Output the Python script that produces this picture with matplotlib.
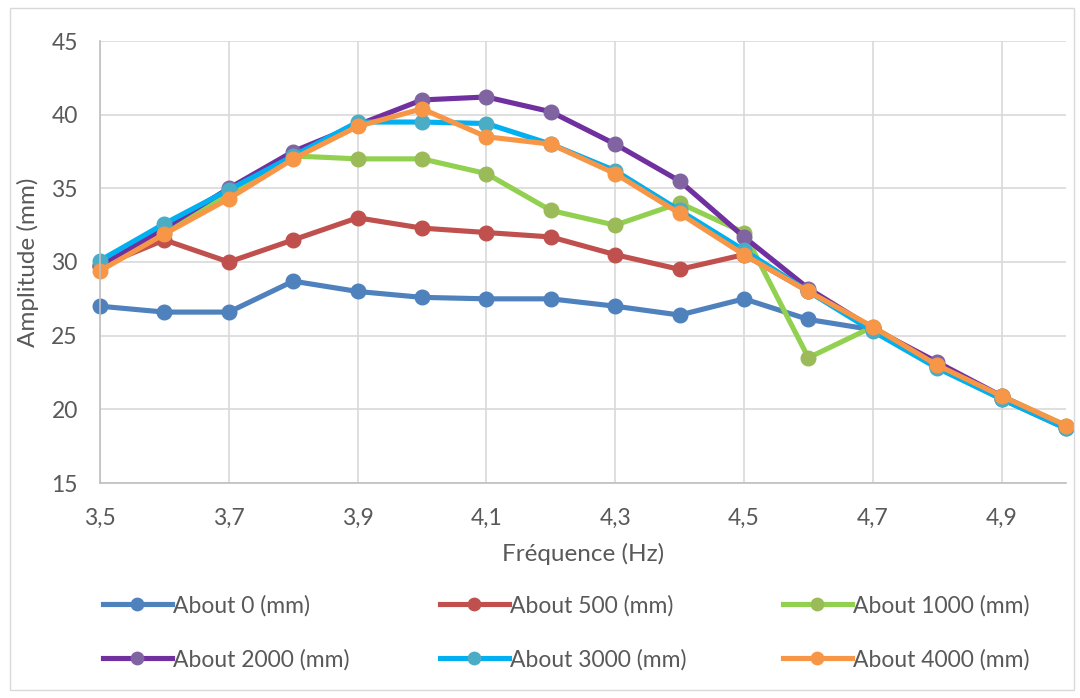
import matplotlib.pyplot as plt
from matplotlib.ticker import FixedLocator, FuncFormatter
from matplotlib.patches import Rectangle

# Amplitude vs frequency for each offset
freq = [3.5, 3.6, 3.7, 3.8, 3.9, 4.0, 4.1, 4.2, 4.3, 4.4, 4.5, 4.6, 4.7, 4.8, 4.9, 5.0]
about_0 = [27.0, 26.6, 26.6, 28.7, 28.0, 27.6, 27.5, 27.5, 27.0, 26.4, 27.5, 26.1, 25.4, 22.9, 20.7, 18.7]
about_500 = [29.7, 31.5, 30.0, 31.5, 33.0, 32.3, 32.0, 31.7, 30.5, 29.5, 30.5, 28.0, 25.5, 23.0, 20.8, 18.8]
about_1000 = [29.8, 32.0, 34.7, 37.2, 37.0, 37.0, 36.0, 33.5, 32.5, 34.0, 32.0, 23.5, 25.6, 23.0, 20.9, 18.9]
about_2000 = [29.7, 32.3, 35.0, 37.5, 39.3, 41.0, 41.2, 40.2, 38.0, 35.5, 31.7, 28.2, 25.5, 23.2, 20.9, 18.8]
about_3000 = [30.1, 32.6, 34.9, 37.2, 39.5, 39.5, 39.4, 38.0, 36.2, 33.5, 30.8, 28.0, 25.3, 22.8, 20.7, 18.7]
about_4000 = [29.4, 31.9, 34.3, 37.0, 39.2, 40.4, 38.5, 38.0, 36.0, 33.3, 30.5, 28.0, 25.6, 23.0, 20.9, 18.9]

labels = ["About 0 (mm)", "About 500 (mm)", "About 1000 (mm)",
          "About 2000 (mm)", "About 3000 (mm)", "About 4000 (mm)"]
series = [about_0, about_500, about_1000, about_2000, about_3000, about_4000]
line_colors = ["#4F81BD", "#C0504D", "#92D050", "#7030A0", "#00B0F0", "#F79646"]
marker_colors = ["#4F81BD", "#C0504D", "#9BBB59", "#8064A2", "#4BACC6", "#F79646"]

plt.rcParams["font.family"] = ["Lato", "DejaVu Sans"]
TEXT = "#595959"

fig = plt.figure(figsize=(10.8, 6.98), dpi=100)
fig.patches.append(Rectangle((0.009, 0.012), 0.985, 0.976, transform=fig.transFigure,
                             fill=False, edgecolor="#D9D9D9", linewidth=1))
ax = fig.add_axes([100 / 1080, 1 - 483 / 698, 966 / 1080, 442 / 698])

handles = []
for ys, lab, lc, mc in zip(series, labels, line_colors, marker_colors):
    h, = ax.plot(freq, ys, color=lc, linewidth=3.7, marker="o", markersize=10.5,
                 markerfacecolor=mc, markeredgecolor=mc, label=lab, clip_on=False)
    handles.append(h)

ax.set_xlim(3.5, 5.0)
ax.set_ylim(15, 45)
ax.xaxis.set_major_locator(FixedLocator([3.5, 3.7, 3.9, 4.1, 4.3, 4.5, 4.7, 4.9]))
ax.set_yticks(range(15, 46, 5))
ax.xaxis.set_major_formatter(FuncFormatter(lambda v, p: f"{v:.1f}".replace(".", ",")))
ax.grid(True, color="#D9D9D9", linewidth=1.2)
ax.set_axisbelow(True)
for s in ["top", "right"]:
    ax.spines[s].set_visible(False)
for s in ["left", "bottom"]:
    ax.spines[s].set_color("#BFBFBF")
    ax.spines[s].set_linewidth(1.2)
ax.tick_params(axis="both", length=0, labelsize=16.5, colors=TEXT)
ax.tick_params(axis="x", pad=18)
ax.tick_params(axis="y", pad=16)

ax.set_xlabel("Fréquence (Hz)", fontsize=17.5, color=TEXT, labelpad=10)
ax.set_ylabel("Amplitude (mm)", fontsize=17.5, color=TEXT, labelpad=9)

# one legend per column so the columns sit where the reference has them
col_x = [103, 440, 783]
for i, x0 in enumerate(col_x):
    fig.legend(handles=[handles[i], handles[i + 3]], labels=[labels[i], labels[i + 3]],
               loc="upper left", bbox_to_anchor=(x0 / 1080, 1 - 595 / 698),
               frameon=False, fontsize=16.5, labelcolor=TEXT, handlelength=3.0,
               handletextpad=0.05, labelspacing=1.4, markerscale=0.85,
               borderaxespad=0, borderpad=0)

fig.savefig("out.png", dpi=100)
